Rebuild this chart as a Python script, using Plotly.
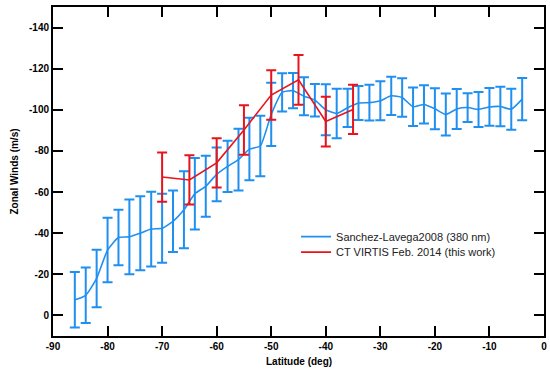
import plotly.graph_objects as go

# Blue series: Sanchez-Lavega2008 (380 nm)
sl_lat = [-86, -84, -82, -80, -78, -76, -74, -72, -70, -68, -66, -64, -62, -60,
          -58, -56, -54, -52, -50, -48, -46, -44, -42, -40, -38, -36, -34, -32,
          -30, -28, -26, -24, -22, -20, -18, -16, -14, -12, -10, -8, -6, -4]
sl_wind = [-7.6, -9.8, -18.0, -31.8, -37.9, -38.2, -40.0, -42.0, -42.4, -45.8,
           -51.4, -59.2, -62.8, -68.6, -72.5, -75.8, -80.9, -82.4, -97.8, -108.5,
           -109.3, -106.6, -104.7, -100.0, -98.2, -101.0, -103.3, -103.5, -104.4,
           -106.8, -106.0, -101.5, -102.6, -100.5, -97.7, -100.4, -101.1, -100.2,
           -101.4, -101.6, -100.3, -105.2]
sl_err = [13.5, 13.5, 14.0, 15.7, 13.5, 18.2, 18.0, 18.2, 16.8, 15.0, 18.7, 17.4,
          14.8, 13.1, 12.5, 15.0, 15.2, 14.7, 15.4, 9.3, 8.6, 9.2, 7.9, 12.4,
          12.0, 9.3, 8.3, 8.7, 9.5, 9.3, 9.4, 9.4, 9.3, 10.0, 10.2, 9.7, 7.0,
          8.5, 9.2, 9.6, 10.0, 10.3]

# Red series: CT VIRTIS Feb. 2014 (this work)
ct_lat = [-70, -65, -60, -55, -50, -45, -40, -35]
ct_wind = [-67.3, -65.9, -74.2, -90.2, -107.2, -114.6, -94.3, -100.2]
ct_err = [12.0, 12.0, 12.0, 12.0, 12.0, 12.1, 12.1, 12.0]

x_ticks = [-90, -80, -70, -60, -50, -40, -30, -20, -10, 0]
x_tick_labels = ["-90", "-80", "-70", "-60", "-50", "-40", "-30", "-20", "-10", "0"]
y_ticks = [-140, -120, -100, -80, -60, -40, -20, 0]
y_tick_labels = ["-140", "-120", "-100", "-80", "-60", "-40", "-20", "0"]

BLUE = "#1f8ff0"
RED = "#e8141c"
FONT = "Liberation Sans, Arial, sans-serif"

fig = go.Figure()
fig.add_trace(go.Scatter(
    x=sl_lat, y=sl_wind, mode="lines", name="Sanchez-Lavega2008 (380 nm)",
    legend="legend",
    line=dict(color=BLUE, width=1.6, shape="spline", smoothing=0.5),
    error_y=dict(type="data", array=sl_err, visible=True, color=BLUE,
                 thickness=2, width=5),
))
fig.add_trace(go.Scatter(
    x=ct_lat, y=ct_wind, mode="lines", name="CT VIRTIS Feb. 2014 (this work)",
    legend="legend2",
    line=dict(color=RED, width=1.6),
    error_y=dict(type="data", array=ct_err, visible=True, color=RED,
                 thickness=2, width=5),
))

leg_common = dict(xanchor="left", yanchor="top", bgcolor="rgba(0,0,0,0)",
                  borderwidth=0, itemwidth=30,
                  font=dict(family=FONT, size=11, color="#222"))

tickfont = dict(family=FONT, size=10, color="black", weight="bold")

fig.update_layout(
    width=550, height=378,
    margin=dict(l=53, r=6, t=7, b=42, autoexpand=False),
    paper_bgcolor="white", plot_bgcolor="white",
    font=dict(family=FONT, color="black"),
    showlegend=True,
    legend=dict(x=0.495, y=0.346, **leg_common),
    legend2=dict(x=0.495, y=0.299, **leg_common),
    xaxis=dict(
        range=[-90, 0], tickvals=x_ticks, ticktext=x_tick_labels,
        ticks="inside", ticklen=10, tickwidth=2, tickcolor="black",
        showline=True, linewidth=2, linecolor="black", mirror="ticks",
        showgrid=False, zeroline=False, automargin=False,
        tickfont=tickfont,
    ),
    yaxis=dict(
        range=[10, -150], tickvals=y_ticks, ticktext=y_tick_labels,
        ticks="inside", ticklen=10, tickwidth=2, tickcolor="black",
        showline=True, linewidth=2, linecolor="black", mirror="ticks",
        showgrid=False, zeroline=False, automargin=False,
        tickfont=tickfont,
    ),
    annotations=[
        dict(text="<b>Latitude (deg)</b>", xref="paper", yref="paper",
             x=0.5, y=-0.076, xanchor="center", yanchor="middle",
             showarrow=False, font=dict(family=FONT, size=10, color="black")),
        dict(text="<b>Zonal Winds (m/s)</b>", xref="paper", yref="paper",
             x=-0.0774, y=0.5, xanchor="center", yanchor="middle", textangle=-90,
             showarrow=False, font=dict(family=FONT, size=10, color="black")),
    ],
)

fig.write_html("out.html", config={"displayModeBar": False},
               post_script="document.body.style.margin='0px';")
